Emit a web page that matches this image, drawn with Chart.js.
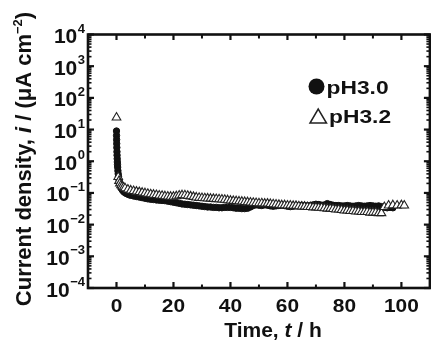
<!DOCTYPE html>
<html>
<head>
<meta charset="utf-8">
<script src="https://cdn.jsdelivr.net/npm/chart.js@4.4.1/dist/chart.umd.min.js"></script>
<style>
  html, body { margin: 0; padding: 0; background: #fff; overflow: hidden; }
  canvas { display: block; }
</style>
</head>
<body>
<canvas id="chart" width="436" height="340"></canvas>
<script>
// pH 3.0, filled circles: time (h) and current density (uA cm-2)
const timesPH30 = [
  0, 0.02, 0.05, 0.08, 0.12, 0.16, 0.2, 0.25, 0.3, 0.35, 0.4, 0.5, 0.6,
  0.7, 0.85, 1, 1.2, 1.4, 1.7, 2, 2.4, 2.8, 3.3, 3.8, 4.4, 5,
  6, 7, 8, 9, 10, 11, 12, 13, 14, 15,
  16, 17, 18, 19, 20, 21, 22, 23, 24, 25,
  26, 27, 28, 29, 30, 31, 32, 33, 34, 35,
  36, 37, 38, 39, 40, 41, 42, 43, 44, 45,
  46, 47, 48, 49, 50, 51, 52, 53, 54, 55,
  56, 57, 58, 59, 60, 61, 62, 63, 64, 65,
  66, 67, 68, 69, 70, 71, 72, 73, 74, 75,
  76, 77, 78, 79, 80, 81, 82, 83, 84, 85,
  86, 87, 88, 89, 90, 91, 92, 93, 94, 95,
  96, 97,
];
const currentPH30 = [
  9.0, 6.5, 4.8, 3.6, 2.7, 2.0, 1.55, 1.2, 0.95, 0.78, 0.65, 0.5, 0.4,
  0.33, 0.27, 0.23, 0.195, 0.17, 0.14, 0.125, 0.113, 0.105, 0.098, 0.093, 0.088, 0.084,
  0.080, 0.077, 0.074, 0.071, 0.068, 0.065, 0.063, 0.062, 0.060, 0.059,
  0.058, 0.057, 0.055, 0.053, 0.051, 0.049, 0.047, 0.045, 0.044, 0.043,
  0.042, 0.041, 0.040, 0.039, 0.038, 0.037, 0.036, 0.036, 0.035, 0.035,
  0.034, 0.034, 0.035, 0.035, 0.035, 0.034, 0.033, 0.033, 0.032, 0.032,
  0.033, 0.036, 0.040, 0.042, 0.041, 0.040, 0.042, 0.041, 0.039, 0.038,
  0.039, 0.040, 0.041, 0.040, 0.038, 0.037, 0.038, 0.039, 0.040, 0.041,
  0.040, 0.039, 0.040, 0.042, 0.044, 0.043, 0.041, 0.042, 0.046, 0.043,
  0.041, 0.040, 0.040, 0.039, 0.039, 0.040, 0.039, 0.038, 0.039, 0.040,
  0.039, 0.038, 0.039, 0.040, 0.039, 0.038, 0.039, 0.037, 0.035, 0.034,
  0.035, 0.034,
];

// pH 3.2, open triangles
const timesPH32 = [
  0, 0.6, 0.9, 1.2, 1.6, 2, 2.5, 3, 4, 5,
  6, 7, 8, 9, 10, 11, 12, 13, 14, 15,
  16, 17, 18, 19, 20, 21, 22, 23, 24, 25,
  26, 27, 28, 29, 30, 31, 32, 33, 34, 35,
  36, 37, 38, 39, 40, 41, 42, 43, 44, 45,
  46, 47, 48, 49, 50, 51, 52, 53, 54, 55,
  56, 57, 58, 59, 60, 61, 62, 63, 64, 65,
  66, 67, 68, 69, 70, 71, 72, 73, 74, 75,
  76, 77, 78, 79, 80, 81, 82, 83, 84, 85,
  86, 87, 88, 89, 90, 91, 92, 93,
  94, 95.5, 97, 98.5, 100, 101,
];
const currentPH32 = [
  24, 0.32, 0.24, 0.2, 0.175, 0.16, 0.15, 0.14, 0.128, 0.12,
  0.115, 0.110, 0.106, 0.102, 0.098, 0.094, 0.091, 0.088, 0.086, 0.083,
  0.081, 0.079, 0.077, 0.076, 0.076, 0.079, 0.083, 0.085, 0.084, 0.081,
  0.078, 0.075, 0.072, 0.070, 0.069, 0.068, 0.067, 0.066, 0.065, 0.064,
  0.063, 0.062, 0.061, 0.059, 0.057, 0.056, 0.055, 0.054, 0.053, 0.052,
  0.051, 0.050, 0.049, 0.048, 0.047, 0.047, 0.046, 0.046, 0.045, 0.044,
  0.043, 0.042, 0.041, 0.041, 0.040, 0.040, 0.039, 0.039, 0.038, 0.037,
  0.037, 0.036, 0.036, 0.035, 0.035, 0.034, 0.034, 0.033, 0.032, 0.032,
  0.031, 0.030, 0.030, 0.029, 0.028, 0.028, 0.027, 0.027, 0.026, 0.026,
  0.025, 0.025, 0.025, 0.024, 0.024, 0.024, 0.023, 0.023,
  0.036, 0.040, 0.041, 0.040, 0.041, 0.040,
];

const seriesLabels = ["pH3.0", "pH3.2"];
const xMajorTicks = [0, 20, 40, 60, 80, 100];
const xMinorTicks = [10, 30, 50, 70, 90];
const xTickLabels = ["0", "20", "40", "60", "80", "100"];
const yTickExponents = [-4, -3, -2, -1, 0, 1, 2, 3, 4];

const ink = "#111";
const family = '"Liberation Sans", Arial, sans-serif';

function points(times, values) {
  return times.map((t, i) => ({ x: t, y: values[i] }));
}

function drawText(ctx, str, x, y, font, align = "left", stretch = 1) {
  ctx.save();
  ctx.font = font;
  const width = ctx.measureText(str).width * stretch;
  const left = align === "center" ? x - width / 2 : align === "right" ? x - width : x;
  ctx.translate(left, y);
  ctx.scale(stretch, 1);
  ctx.textAlign = "left";
  ctx.textBaseline = "alphabetic";
  ctx.fillText(str, 0, 0);
  ctx.restore();
  return width;
}

// runs of [text, font, baseline shift]; drawn one after another
function drawRuns(ctx, runs, x, y, align = "center") {
  let total = 0;
  runs.forEach(([str, font]) => {
    ctx.font = font;
    total += ctx.measureText(str).width;
  });
  let cursor = align === "center" ? x - total / 2 : x;
  runs.forEach(([str, font, shift = 0]) => {
    cursor += drawText(ctx, str, cursor, y + shift, font);
  });
}

const frame = {
  id: "frame",
  afterDatasetsDraw(chart) {
    const { ctx, chartArea: a, scales: { x, y } } = chart;
    const line = (x1, y1, x2, y2) => {
      ctx.beginPath();
      ctx.moveTo(x1, y1);
      ctx.lineTo(x2, y2);
      ctx.stroke();
    };
    ctx.save();
    ctx.strokeStyle = ink;
    ctx.fillStyle = ink;
    ctx.lineCap = "butt";

    ctx.lineWidth = 2.2;
    xMajorTicks.forEach((v) => {
      const px = x.getPixelForValue(v);
      line(px, a.bottom, px, a.bottom - 6);
      line(px, a.top, px, a.top + 5.5);
    });
    ctx.lineWidth = 2;
    xMinorTicks.forEach((v) => {
      const px = x.getPixelForValue(v);
      line(px, a.bottom, px, a.bottom - 3.5);
      line(px, a.top, px, a.top + 4);
    });
    yTickExponents.forEach((e) => {
      const py = y.getPixelForValue(10 ** e);
      ctx.lineWidth = 2.2;
      line(a.left, py, a.left + 6, py);
      line(a.right, py, a.right - 6, py);
      if (e < 4) {
        ctx.lineWidth = 1.6;
        for (let m = 2; m <= 9; m++) {
          const pm = y.getPixelForValue(m * 10 ** e);
          line(a.left, pm, a.left + 3.5, pm);
          line(a.right, pm, a.right - 3.5, pm);
        }
      }
    });

    ctx.lineWidth = 2.6;
    ctx.strokeRect(a.left, a.top, a.right - a.left, a.bottom - a.top);

    // tick labels
    xMajorTicks.forEach((v, i) => {
      drawText(ctx, xTickLabels[i], x.getPixelForValue(v), a.bottom + 24, `bold 19px ${family}`, "center", 1.1);
    });
    yTickExponents.forEach((e) => {
      const py = y.getPixelForValue(10 ** e);
      const sup = e < 0 ? "\u2212" + Math.abs(e) : String(e);
      const supWidth = drawText(ctx, sup, a.left - 3, py - 2, `bold 13px ${family}`, "right");
      drawText(ctx, "10", a.left - 3.5 - supWidth, py + 8.5, `bold 21px ${family}`, "right");
    });

    // axis titles
    const bold = `bold 21px ${family}`;
    const italic = `italic bold 21px ${family}`;
    drawRuns(ctx, [["Time, ", bold], ["t", italic], [" / h", bold]], 273, 337);

    ctx.save();
    ctx.translate(31, 159);
    ctx.rotate(-Math.PI / 2);
    const big = `bold 22px ${family}`;
    drawRuns(ctx, [
      ["Current density, ", big],
      ["i", `italic bold 22px ${family}`],
      [" / (\u03bcA cm", big],
      ["\u22122", `bold 13px ${family}`, -9],
      [")", big],
    ], 0, 0);
    ctx.restore();

    // legend
    const [tri, dot] = chart.data.datasets;
    ctx.fillStyle = dot.pointBackgroundColor;
    ctx.beginPath();
    ctx.arc(316.5, 86.5, 8, 0, Math.PI * 2);
    ctx.fill();
    ctx.fillStyle = ink;
    drawText(ctx, seriesLabels[0], 326.5, 94, `bold 19px ${family}`, "left", 1.2);

    ctx.fillStyle = tri.pointBackgroundColor;
    ctx.strokeStyle = tri.pointBorderColor;
    ctx.lineWidth = 1.5;
    ctx.beginPath();
    ctx.moveTo(310, 123);
    ctx.lineTo(326.5, 123);
    ctx.lineTo(318.2, 109);
    ctx.closePath();
    ctx.fill();
    ctx.stroke();
    ctx.fillStyle = ink;
    drawText(ctx, seriesLabels[1], 329, 122.5, `bold 19px ${family}`, "left", 1.2);

    ctx.restore();
  },
};

new Chart(document.getElementById("chart"), {
  type: "scatter",
  data: {
    datasets: [
      {
        label: seriesLabels[1],
        data: points(timesPH32, currentPH32),
        pointStyle: "triangle",
        pointRadius: 5,
        pointBorderWidth: 1.1,
        pointBorderColor: "#222",
        pointBackgroundColor: "#fff",
      },
      {
        label: seriesLabels[0],
        data: points(timesPH30, currentPH30),
        pointStyle: "circle",
        pointRadius: 3.2,
        pointBorderWidth: 1,
        pointBorderColor: ink,
        pointBackgroundColor: ink,
      },
    ],
  },
  options: {
    responsive: false,
    animation: false,
    devicePixelRatio: 1,
    layout: { padding: { left: 88, top: 34.5, right: 3, bottom: 52 } },
    scales: {
      x: { type: "linear", min: -10, max: 110, display: false },
      y: { type: "logarithmic", min: 1e-4, max: 1e4, display: false },
    },
    plugins: {
      legend: { display: false },
      tooltip: { enabled: false },
    },
  },
  plugins: [frame],
});
</script>
</body>
</html>
